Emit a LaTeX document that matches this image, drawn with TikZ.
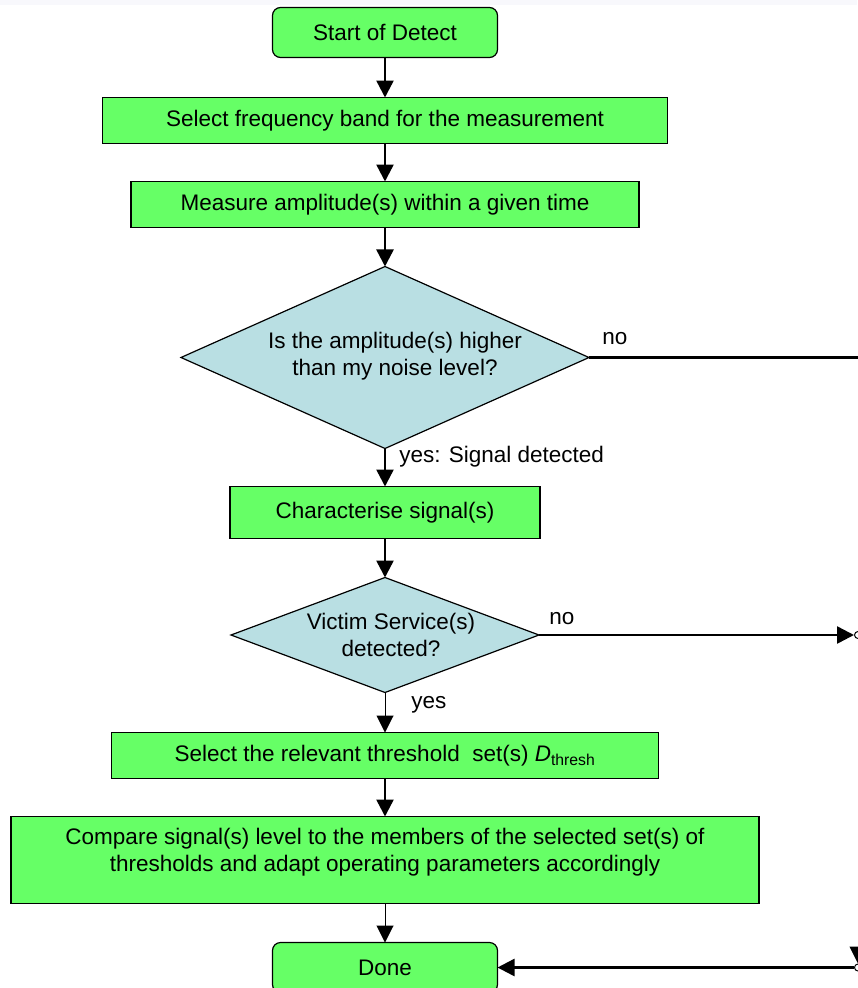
\documentclass[tikz,border=0pt]{standalone}
\usepackage{fontspec}
\setmainfont{Liberation Sans}
\usetikzlibrary{positioning,shapes.geometric,arrows.meta}

\definecolor{boxgreen}{RGB}{102,255,102}
\definecolor{decblue}{RGB}{185,223,227}
\definecolor{topband}{RGB}{248,248,252}

\begin{document}
\begin{tikzpicture}[->,>={Triangle[length=17pt,width=17pt]},x=1pt,y=1pt,
                    line width=2.5pt,
                    box/.style={rectangle,fill=boxgreen,draw,line width=1.2pt,outer sep=0pt,
                                inner sep=0pt,font=\fontsize{22.5}{27}\selectfont,align=center},
                    term/.style={box,rounded corners=8pt,minimum width=225pt,minimum height=50pt},
                    decision/.style={diamond,fill=decblue,draw,line width=1.2pt,outer sep=0pt,
                                     inner sep=0pt},
                    lbl/.style={inner sep=0pt,font=\fontsize{22.5}{27}\selectfont},
                    port/.style={circle,draw,line width=1pt,fill=white,minimum size=7pt,inner sep=0pt}
                   ]

  \useasboundingbox (0,0) rectangle (857,-988);
  \fill[white,-] (0,0) rectangle (857,-988);
  \fill[topband,-] (0,0) rectangle (857,-5);

  \node[term] (start) at (385,-32.5) {Start of Detect};
  \node[box,minimum width=565pt,minimum height=46pt] (band) [below=40pt of start]
       {Select frequency band for the measurement};
  \node[box,minimum width=508pt,minimum height=46pt] (measure) [below=38pt of band]
       {Measure amplitude(s) within a given time};
  \node[decision,minimum width=408pt,minimum height=182pt,
        label={[lbl,align=center,xshift=10pt,yshift=1pt]center:Is the amplitude(s) higher\\than my noise level?}]
       (amp) [below=39pt of measure] {};
  \node[box,minimum width=310pt,minimum height=52pt] (charac) [below=38pt of amp]
       {Characterise signal(s)};
  \node[decision,minimum width=308pt,minimum height=115pt,
        label={[lbl,align=center,xshift=6pt]center:Victim Service(s)\\detected?}]
       (victim) [below=39pt of charac] {};
  \node[box,minimum width=547pt,minimum height=46pt] (thresh) [below=40pt of victim]
       {Select the relevant threshold\ \ set(s) \textit{D}\textsubscript{thresh}};
  \node[box,minimum width=748pt,minimum height=87pt] (compare) [below=38pt of thresh]
       {Compare signal(s) level to the members of the selected set(s) of\\thresholds and adapt operating parameters accordingly\\[-6pt]\mbox{}};
  \node[term] (done) [below=39pt of compare] {Done};

  % branches leaving the picture on the right
  \coordinate (edge) at (858,0);
  \node[port] (noport) at (victim.east -| edge) {};
  \node[port] (doneport) at (done.east -| edge) {};
  \coordinate (offtop) at (858,-900);

  \draw (start) -- (band);
  \draw (band) -- (measure);
  \draw (measure) -- (amp);
  \draw (amp) -- (charac);
  \draw (charac) -- (victim);
  \draw[line width=1pt] (victim) -- (thresh);
  \draw (thresh) -- (compare);
  \draw[line width=1pt] (compare) -- (done);

  \draw[-] (amp.east) -- node[lbl,pos=0,anchor=base west,xshift=12pt,yshift=13pt] {no} (amp.east -| edge);
  \draw (victim) -- node[lbl,pos=0,anchor=base west,xshift=9pt,yshift=11pt] {no} (noport);
  \draw[line width=1pt] (offtop) -- (doneport);
  \draw (doneport) -- (done);

  \node[lbl,anchor=base west] (yes1) at ([shift={(13pt,-13.5pt)}]amp.south) {yes: Signal detected};
  \node[lbl,anchor=base west] (yes2) at ([shift={(25pt,-16pt)}]victim.south) {yes};
\end{tikzpicture}
\end{document}
